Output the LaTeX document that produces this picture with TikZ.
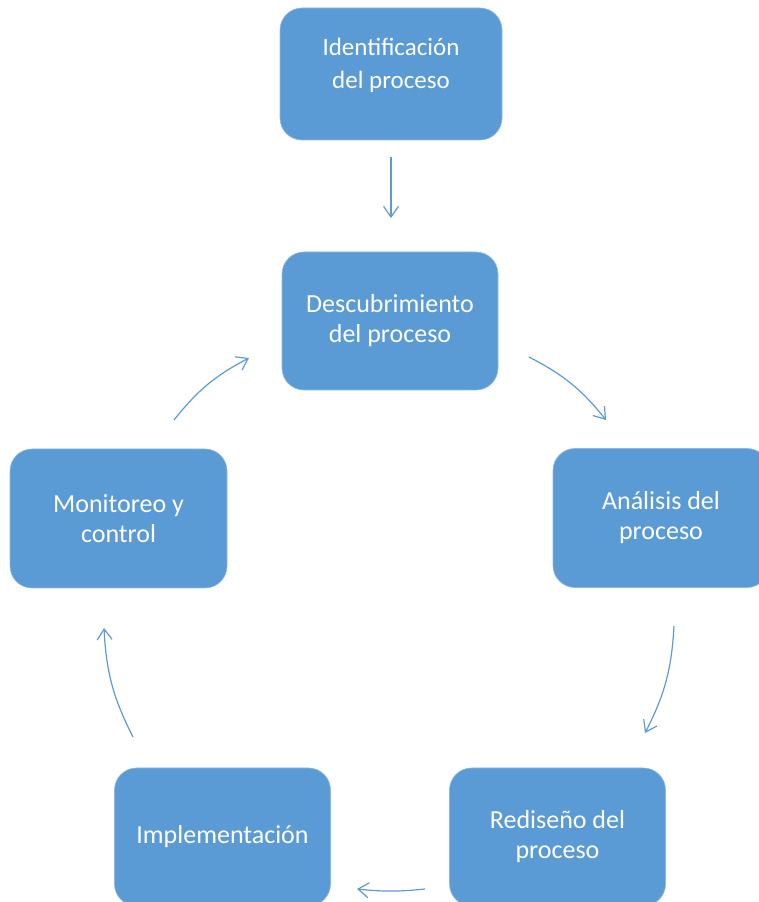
\documentclass[tikz,border=0pt]{standalone}
\usepackage{fontspec}
\setmainfont{Carlito}
\usepackage{tikz}
\usetikzlibrary{arrows.meta,calc}
\definecolor{boxblue}{HTML}{5B9BD5}
\tikzset{
  etapa/.style={rounded corners=22pt, fill=boxblue, draw=boxblue!70!white, line width=0.6pt,
    minimum width=216pt, minimum height=138pt, text=white, align=center,
    font=\fontsize{26}{30}\selectfont},
  flecha/.style={draw=boxblue, line width=1.2pt, -{Straight Barb[angle=70:13pt, line width=1.2pt]}}
}
\begin{document}
\begin{tikzpicture}[x=1pt,y=1pt]
\useasboundingbox (0,0) rectangle (759,902);
\begin{scope}
\clip (0,0) rectangle (759,902);
\node[etapa, minimum width=222pt, minimum height=132pt, text depth=22pt,
  font=\fontsize{25}{33}\selectfont] (ident) at (391,828) {Identificación\\del proceso};
\node[etapa] (desc) at (390,581) {Descubrimiento\\del proceso};
\node[etapa, minimum height=139pt] (anal) at (661,384) {Análisis del\\proceso};
\node[etapa] (redis) at (557.5,65) {Rediseño del\\proceso};
\node[etapa] (impl) at (222.5,65) {Implementación};
\node[etapa, minimum width=217pt, minimum height=139pt] (monit) at (118.5,383.5) {Monitoreo y\\control};
\end{scope}
% puntos de las flechas del ciclo
\coordinate (id1) at (391,745);
\coordinate (id2) at (391,684);
\coordinate (da1) at (529,545);
\coordinate (da2) at (606,482);
\coordinate (ar1) at (674,276);
\coordinate (ar2) at (645,169);
\coordinate (ri1) at (425,13);
\coordinate (ri2) at (357,13);
\coordinate (im1) at (133,165);
\coordinate (im2) at (104,274);
\coordinate (md1) at (174,482);
\coordinate (md2) at (249,544);
\draw[flecha] (id1) -- (id2);
\draw[flecha] (da1) to[bend left=12] (da2);
\draw[flecha] (ar1) to[bend left=12] (ar2);
\draw[flecha] (ri1) to[bend left=6] (ri2);
\draw[flecha] (im1) to[bend left=12] (im2);
\draw[flecha] (md1) to[bend left=12] (md2);
\end{tikzpicture}
\end{document}
